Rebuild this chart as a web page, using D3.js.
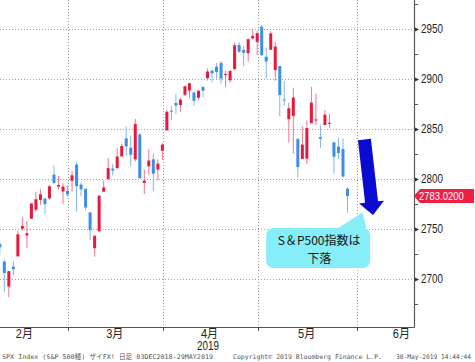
<!DOCTYPE html>
<html>
<head>
<meta charset="utf-8">
<script src="https://cdnjs.cloudflare.com/ajax/libs/d3/7.8.5/d3.min.js"></script>
<style>
	html, body { margin: 0; padding: 0; background: #fff; }
	svg { display: block; font-family: 'Liberation Sans', 'Noto Sans CJK JP', sans-serif; }
	.grid line { stroke: #a0a0a0; stroke-width: 1; stroke-dasharray: 1,2; }
	.axis-line { stroke: #555; stroke-width: 1.2; }
	.footer text { font-family: 'DejaVu Sans Mono', 'Noto Sans CJK JP', monospace; font-size: 6.4px; fill: #555; }
</style>
</head>
<body>
<div id="chart"></div>
<script>
// SPX daily candles, 06FEB2019 - 29MAY2019 (visible part of the chart)
var days = ['02-06','02-07','02-08','02-11','02-12','02-13','02-14','02-15','02-19','02-20',
	'02-21','02-22','02-25','02-26','02-27','02-28','03-01','03-04','03-05','03-06',
	'03-07','03-08','03-11','03-12','03-13','03-14','03-15','03-18','03-19','03-20',
	'03-21','03-22','03-25','03-26','03-27','03-28','03-29','04-01','04-02','04-03',
	'04-04','04-05','04-08','04-09','04-10','04-11','04-12','04-15','04-16','04-17',
	'04-18','04-22','04-23','04-24','04-25','04-26','04-29','04-30','05-01','05-02',
	'05-03','05-06','05-07','05-08','05-09','05-10','05-13','05-14','05-15','05-16',
	'05-17','05-20','05-21','05-22','05-23','05-24','05-28','05-29'];
var open = [2735.05,2717.53,2692.36,2712.40,2722.61,2750.30,2743.50,2760.24,2769.28,2779.05,
	2780.24,2780.67,2804.35,2792.36,2787.50,2788.11,2798.22,2814.37,2794.41,2790.27,
	2766.53,2730.79,2747.61,2787.34,2799.78,2810.38,2810.79,2822.61,2840.76,2831.34,
	2819.72,2844.52,2796.01,2812.66,2819.72,2809.40,2828.27,2848.63,2868.24,2876.09,
	2873.99,2884.16,2888.46,2886.58,2881.37,2891.92,2900.86,2908.32,2912.26,2916.04,
	2904.81,2898.78,2909.99,2934.00,2928.99,2925.81,2940.58,2937.14,2952.33,2922.16,
	2929.21,2908.89,2913.03,2879.61,2859.84,2863.10,2840.19,2820.12,2820.38,2855.80,
	2858.60,2841.94,2854.02,2856.06,2836.70,2832.41,2830.03,2790.25];
var high = [2738.08,2719.32,2708.07,2718.05,2748.19,2761.85,2757.90,2775.66,2787.33,2789.88,
	2781.58,2794.20,2813.49,2803.12,2795.76,2793.73,2808.02,2816.88,2796.44,2790.27,
	2767.25,2744.13,2784.00,2798.32,2821.24,2815.00,2830.73,2835.41,2852.42,2843.54,
	2860.31,2846.16,2809.79,2829.87,2825.56,2819.71,2836.03,2869.40,2872.90,2885.25,
	2881.28,2893.24,2895.95,2886.88,2889.71,2893.42,2910.54,2909.60,2916.06,2918.00,
	2908.40,2909.51,2936.31,2936.83,2933.10,2939.88,2949.52,2948.22,2954.13,2931.68,
	2947.85,2937.32,2913.03,2897.96,2875.97,2891.31,2840.19,2852.54,2858.68,2892.15,
	2885.48,2853.86,2868.88,2865.47,2836.70,2841.36,2840.51,2792.03];
var low = [2724.15,2687.26,2681.83,2703.79,2722.61,2748.63,2731.23,2760.24,2767.29,2774.06,
	2764.55,2779.11,2794.99,2789.47,2775.13,2782.51,2787.38,2767.66,2782.97,2768.69,
	2739.09,2722.27,2747.61,2786.73,2799.78,2803.46,2810.79,2821.99,2823.27,2812.43,
	2817.38,2800.47,2785.02,2803.99,2787.72,2798.77,2819.23,2848.63,2858.75,2865.17,
	2867.14,2882.99,2880.78,2873.33,2879.13,2881.99,2898.37,2896.48,2900.71,2895.45,
	2891.90,2896.35,2908.53,2926.05,2912.84,2917.56,2939.35,2924.11,2923.36,2900.50,
	2929.21,2898.21,2862.60,2873.28,2836.40,2825.39,2801.43,2820.12,2815.08,2855.80,
	2854.23,2831.29,2854.02,2851.11,2805.49,2820.19,2801.58,2766.06];
var close = [2731.61,2706.05,2707.88,2709.80,2744.73,2753.03,2745.73,2775.60,2779.76,2784.70,
	2774.88,2792.67,2796.11,2793.90,2792.38,2784.49,2803.69,2792.81,2789.65,2771.45,
	2748.93,2743.07,2783.30,2791.52,2810.92,2808.48,2822.48,2832.94,2832.57,2824.23,
	2854.88,2800.71,2798.36,2818.46,2805.37,2815.44,2834.40,2867.19,2867.24,2873.40,
	2879.39,2892.74,2895.77,2878.20,2888.21,2888.32,2907.41,2905.58,2907.06,2900.45,
	2905.03,2907.97,2933.68,2927.25,2926.17,2939.88,2943.03,2945.83,2923.73,2917.52,
	2945.64,2932.47,2884.05,2879.42,2870.72,2881.40,2811.87,2834.41,2850.96,2876.32,
	2859.53,2840.23,2864.36,2856.27,2822.24,2826.06,2802.39,2783.02];

// months on the time axis, as trading-day indexes (index 0 = 06FEB)
var months     = ['2月', '3月', '4月', '5月', '6月'];
var monthFirst = [-3, 16, 37, 58, 80];
var monthLast  = [15, 36, 57, 79, 99];

var yTicks = [2700, 2750, 2800, 2850, 2900, 2950];
var yMinor = [2675, 2725, 2775, 2825, 2875, 2925, 2975];

var note     = ['S＆P500指数は', '下落'];
var footer   = ['SPX Index (S&P 500種) ザイFX!  日足 03DEC2018-29MAY2019',
	'Copyright© 2019 Bloomberg Finance L.P.',
	'30-May-2019 14:44:44'];

function CandleChart(config) {
	var me = this;
	me.parentNode = d3.select('#' + config.parentId);
	me.width  = config.width;
	me.height = config.height;
	me.plot   = {right: 414, bottom: 327};
	me.upColor   = '#e8193d';
	me.downColor = '#3d8fe6';
	me.initVisuals();
}

CandleChart.prototype.initVisuals = function() {
	var me = this;
	me.svg = me.parentNode.append('svg')
		.attr('width',  me.width)
		.attr('height', me.height);

	// trading-day index -> x ; price -> y
	me.xScale = d3.scaleLinear().domain([0, 77]).range([-0.2, 347.5]);
	me.yScale = d3.scaleLinear().domain([2652, 2979]).range([me.plot.bottom, 0]);

	me.candles = days.map(function(d, i) {
		return {day: d, i: i, o: open[i], h: high[i], l: low[i], c: close[i]};
	});

	me.drawGrid();
	me.drawCandles();
	me.drawAxes();
	me.drawNote();
	me.drawFooter();
}

CandleChart.prototype.drawGrid = function() {
	var me = this;
	var g = me.svg.append('g').attr('class', 'grid');

	g.selectAll('.hgrid')
		.data(yTicks)
		.enter().append('line')
		.attr('x1', 0).attr('x2', me.plot.right)
		.attr('y1', function(d) { return Math.round(me.yScale(d)) + 0.5; })
		.attr('y2', function(d) { return Math.round(me.yScale(d)) + 0.5; });

	// month boundaries sit a little left of the gap between sessions
	me.boundary = function(first) { return Math.round(me.xScale(first - 0.5) - 1.5) + 0.5; };
	g.selectAll('.vgrid')
		.data(monthFirst.slice(1))
		.enter().append('line')
		.attr('x1', me.boundary).attr('x2', me.boundary)
		.attr('y1', 0).attr('y2', me.plot.bottom);
}

CandleChart.prototype.drawCandles = function() {
	var me = this;
	var color = function(d) { return d.c >= d.o ? me.upColor : me.downColor; };
	var wick  = function(d) { return d.c >= d.o ? '#f0768a' : '#82b6ee'; };

	var candle = me.svg.append('g')
		.attr('class', 'candles')
		.selectAll('g')
		.data(me.candles)
		.enter().append('g')
		.attr('transform', function(d) { return 'translate(' + me.xScale(d.i) + ',0)'; });

	candle.append('line')
		.attr('stroke', wick)
		.attr('stroke-width', 1)
		.attr('y1', function(d) { return me.yScale(d.h); })
		.attr('y2', function(d) { return me.yScale(d.l); });

	candle.append('rect')
		.attr('fill', color)
		.attr('x', -1.5)
		.attr('width', 3)
		.attr('y', function(d) { return me.yScale(Math.max(d.o, d.c)); })
		.attr('height', function(d) { return Math.max(1, Math.abs(me.yScale(d.o) - me.yScale(d.c))); });
}

CandleChart.prototype.drawAxes = function() {
	var me = this;
	var right = me.plot.right, bottom = me.plot.bottom;

	// price axis on the right
	var yAxis = d3.axisRight(me.yScale)
		.tickValues(yTicks)
		.tickSize(0)
		.tickFormat(d3.format('d'));
	var ya = me.svg.append('g')
		.attr('transform', 'translate(' + right + ',0)')
		.call(yAxis);
	ya.select('.domain').remove();
	ya.selectAll('.tick text')
		.attr('x', null)
		.attr('transform', 'translate(7,0) scale(0.82,1)')
		.attr('font-size', 12)
		.attr('font-family', null)
		.attr('fill', '#222');
	ya.selectAll('.tick').append('path')
		.attr('d', 'M0,-2.5L5,0L0,2.5Z')
		.attr('fill', '#333');

	me.svg.append('g').selectAll('line')
		.data(yMinor)
		.enter().append('line')
		.attr('stroke', '#555')
		.attr('x1', right).attr('x2', right + 4)
		.attr('y1', function(d) { return Math.round(me.yScale(d)) + 0.5; })
		.attr('y2', function(d) { return Math.round(me.yScale(d)) + 0.5; });

	me.svg.append('line').attr('class', 'axis-line')
		.attr('x1', right + 0.5).attr('x2', right + 0.5)
		.attr('y1', 0).attr('y2', bottom + 0.5);
	me.svg.append('line').attr('class', 'axis-line')
		.attr('x1', 0).attr('x2', right + 0.5)
		.attr('y1', bottom + 0.5).attr('y2', bottom + 0.5);

	// month ticks + labels
	me.svg.append('g').selectAll('line')
		.data(monthFirst.slice(1))
		.enter().append('line')
		.attr('stroke', '#555')
		.attr('x1', me.boundary).attr('x2', me.boundary)
		.attr('y1', bottom).attr('y2', bottom + 4);

	me.svg.append('g').selectAll('text')
		.data(months)
		.enter().append('text')
		.attr('transform', function(d, i) {
			var cx = me.xScale((monthFirst[i] + monthLast[i]) / 2) - 2.5;
			return 'translate(' + cx + ',' + (bottom + 11) + ') scale(0.92,1)';
		})
		.attr('text-anchor', 'middle')
		.attr('font-size', 12)
		.attr('fill', '#222')
		.text(function(d) { return d; });

	me.svg.append('text')
		.attr('transform', 'translate(' + (me.xScale((monthFirst[2] + monthLast[2]) / 2) - 4) + ',' + (bottom + 23) + ') scale(0.82,1)')
		.attr('text-anchor', 'middle')
		.attr('font-size', 12)
		.attr('fill', '#222')
		.text('2019');

	// last price tag
	var last = close[close.length - 1];
	var yc = me.yScale(last);
	me.svg.append('path')
		.attr('d', 'M' + right + ',' + yc + 'L' + (right + 6) + ',' + (yc - 7) + 'H474V' + (yc + 7) + 'H' + (right + 6) + 'Z')
		.attr('fill', '#ee1f45');
	me.svg.append('text')
		.attr('transform', 'translate(' + (right + 5) + ',' + (yc + 4) + ') scale(0.86,1)')
		.attr('font-size', 11)
		.attr('fill', '#fff')
		.text(d3.format('.4f')(last));
}

CandleChart.prototype.drawNote = function() {
	var me = this;
	var x = me.xScale, y = me.yScale;

	// thick arrow, from (index, price) to (index, price)
	var p0 = [x(80.75), y(2839.5)], p1 = [x(82.65), y(2764)];
	var dx = p1[0] - p0[0], dy = p1[1] - p0[1], len = Math.sqrt(dx * dx + dy * dy);
	var u = [dx / len, dy / len], n = [-u[1], u[0]];
	var neck = [p1[0] - u[0] * 13, p1[1] - u[1] * 13];
	var pt = function(p, k) { return [p[0] + n[0] * k, p[1] + n[1] * k]; };
	var arrow = [pt(p0, 6.5), pt(neck, 6.5), pt(neck, 12.5), p1, pt(neck, -12.5), pt(neck, -6.5), pt(p0, -6.5)];
	me.svg.append('path')
		.attr('d', d3.line()(arrow) + 'Z')
		.attr('fill', '#0a0ad0');

	// callout box with its pointer
	var bx0 = x(59), bx1 = x(82), by0 = y(2751), by1 = y(2711), r = 7;
	var callout = d3.path();
	callout.moveTo(bx0 + r, by0);
	callout.lineTo(x(74.9), by0);
	callout.lineTo(x(80.3), y(2766.5));
	callout.lineTo(x(81.2), by0);
	callout.lineTo(bx1 - r, by0);
	callout.arcTo(bx1, by0, bx1, by0 + r, r);
	callout.lineTo(bx1, by1 - r);
	callout.arcTo(bx1, by1, bx1 - r, by1, r);
	callout.lineTo(bx0 + r, by1);
	callout.arcTo(bx0, by1, bx0, by1 - r, r);
	callout.lineTo(bx0, by0 + r);
	callout.arcTo(bx0, by0, bx0 + r, by0, r);
	callout.closePath();
	me.svg.append('path')
		.attr('d', callout.toString())
		.attr('fill', '#86eef8');

	me.svg.append('g').selectAll('text')
		.data(note)
		.enter().append('text')
		.attr('x', (bx0 + bx1) / 2 + 1)
		.attr('y', function(d, i) { return by0 + 17 + i * 17.6; })
		.attr('text-anchor', 'middle')
		.attr('font-family', "'Noto Sans CJK JP', sans-serif")
		.attr('font-size', 12)
		.attr('fill', '#111')
		.text(function(d) { return d; });
}

CandleChart.prototype.drawFooter = function() {
	var me = this;
	var spans = [[2, 211], [233, 149], [396, 75]];
	me.svg.append('g').attr('class', 'footer')
		.selectAll('text')
		.data(footer)
		.enter().append('text')
		.attr('x', function(d, i) { return spans[i][0]; })
		.attr('y', 359)
		.attr('textLength', function(d, i) { return spans[i][1]; })
		.attr('lengthAdjust', 'spacingAndGlyphs')
		.text(function(d) { return d; });
}

new CandleChart({parentId: 'chart', width: 475, height: 362});
</script>
</body>
</html>
